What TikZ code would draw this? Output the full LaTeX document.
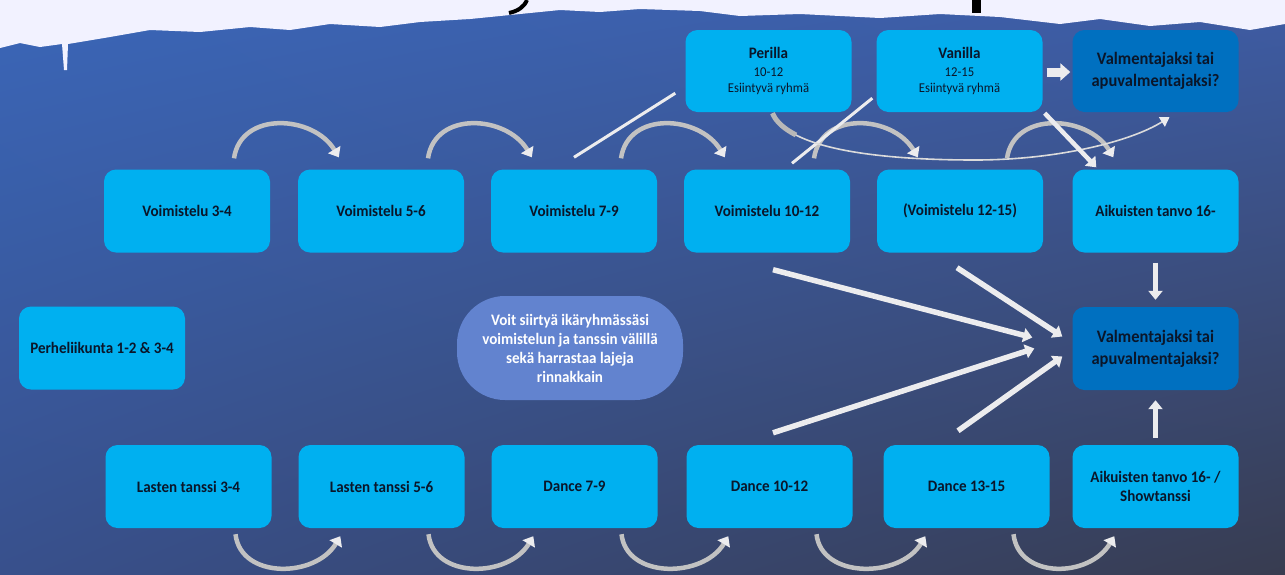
\documentclass[tikz,border=0pt]{standalone}
\usepackage{fontspec}
\setmainfont{Carlito}[FakeStretch=0.94]
\usetikzlibrary{arrows.meta,shadings}

\definecolor{boxcyan}{RGB}{0,176,240}
\definecolor{boxdark}{RGB}{0,112,192}
\definecolor{ovalblue}{RGB}{98,131,207}
\definecolor{labelink}{RGB}{10,22,42}
\definecolor{arrwhite}{RGB}{236,236,238}
\definecolor{bgul}{RGB}{58,102,184}
\definecolor{bgur}{RGB}{62,92,164}
\definecolor{bgll}{RGB}{56,80,140}
\definecolor{bglr}{RGB}{56,60,80}
\newcommand{\agetext}[1]{{\fontsize{13.5}{16}\selectfont\mdseries #1}}

\begin{document}
\begin{tikzpicture}[
    x=1pt, y=-1pt,
    font=\fontsize{16}{19}\selectfont\bfseries,
    box/.style={fill=boxcyan, rounded corners=12pt, minimum width=166pt,
      minimum height=83pt, align=center, text=labelink, inner sep=2pt},
    darkbox/.style={box, fill=boxdark, font=\fontsize{17.5}{22}\selectfont\bfseries},
    note/.style={fill=ovalblue, rounded corners=48pt, minimum width=226pt,
      minimum height=104pt, align=center, text=white},
    arc/.style={draw=black!24, line width=4.5pt,
      -{Triangle[length=9pt,width=14pt,color=arrwhite]}},
    wline/.style={draw=arrwhite, line width=3pt},
    warr/.style={draw=arrwhite, line width=5.5pt,
      -{Triangle[length=9pt,width=14pt]}},
    blockarr/.style={draw=arrwhite, line width=9pt,
      -{Triangle[length=10pt,width=17pt]}},
    thincurve/.style={draw=black!14, line width=1.6pt,
      -{Triangle[length=9pt,width=11pt,color=arrwhite]}}
  ]
    \useasboundingbox (0,0) rectangle (1285,574);
    % background
    \shade[upper left=bgul, upper right=bgur, lower left=bgll, lower right=bglr]
      (0,0) rectangle (1285,574);
    % brush stroke at the top
    \fill[white!95!blue] (0,0) -- (1285,0) -- (1285,24) -- (1250,30) -- (1200,22)
      -- (1150,26) -- (1100,19) -- (1060,24) -- (1000,17) -- (940,14) -- (880,18)
      -- (800,14) -- (740,16) -- (700,11) -- (640,9) -- (600,12) -- (560,10)
      -- (520,14) -- (470,19) -- (420,22) -- (380,27) -- (330,24) -- (290,30)
      -- (250,27) -- (200,32) -- (150,30) -- (110,37) -- (80,42) -- (68,44)
      -- (67,70) -- (64,70) -- (62,44) -- (40,47) -- (20,43) -- (0,48) -- cycle;
    \draw[black, line width=4pt] (527,0) .. controls (524,7) and (518,11) .. (509,13);
    \fill[black] (972,0) rectangle (981,13);

    % top row
    \node[box] (v34) at (187,211) {Voimistelu 3-4};
    \node[box] (v56) at (381,211) {Voimistelu 5-6};
    \node[box] (v79) at (574,211) {Voimistelu 7-9};
    \node[box] (v1012) at (767,211) {Voimistelu 10-12};
    \node[box] (v1215) at (960,211) {(Voimistelu 12-15)};
    \node[box] (aik) at (1155.5,211) {Aikuisten tanvo 16-};

    % show groups
    \node[box, minimum height=82pt] (perilla) at (768.5,71)
      {Perilla\\[-1pt]\agetext{10-12}\\[-3pt]\agetext{Esiintyvä ryhmä}};
    \node[box, minimum height=82pt] (vanilla) at (959.5,71)
      {Vanilla\\[-1pt]\agetext{12-15}\\[-3pt]\agetext{Esiintyvä ryhmä}};
    \node[darkbox, minimum height=82pt] (valmtop) at (1155.5,71)
      {Valmentajaksi tai\\apuvalmentajaksi?};

    % middle
    \node[box] (perhe) at (102,348) {Perheliikunta 1-2 \& 3-4};
    \node[note] (note) at (570,348)
      {Voit siirtyä ikäryhmässäsi\\voimistelun ja tanssin välillä\\sekä harrastaa lajeja\\rinnakkain};
    \node[darkbox] (valmmid) at (1155.5,348.5)
      {Valmentajaksi tai\\apuvalmentajaksi?};

    % bottom row
    \node[box] (l34) at (188.5,486.5) {Lasten tanssi 3-4};
    \node[box] (l56) at (381.5,486.5) {Lasten tanssi 5-6};
    \node[box] (d79) at (574.5,486.5) {Dance 7-9};
    \node[box] (d1012) at (769.5,486.5) {Dance 10-12};
    \node[box] (d1315) at (966.5,486.5) {Dance 13-15};
    \node[box] (show) at (1155.5,486.5) {Aikuisten tanvo 16- /\\Showtanssi};

    % yearly steps
    \foreach \a/\b in {v34/v56, v56/v79, v79/v1012, v1012/v1215, v1215/aik}
      \draw[arc] ([xshift=47pt,yshift=11pt]\a.north) .. controls +(7,-48) and +(-25,-42)
        .. ([xshift=41pt,yshift=12pt]\b.north west);
    \foreach \a/\b in {l34/l56, l56/d79, d79/d1012, d1012/d1315, d1315/show}
      \draw[arc] ([xshift=47pt,yshift=-6pt]\a.south) .. controls +(5,45) and +(-25,42)
        .. ([xshift=42pt,yshift=-8pt]\b.south west);

    % to the show groups
    \draw[wline] ([yshift=12pt]v79.north) -- ([xshift=-10pt,yshift=19pt]perilla.south west);
    \draw[wline] ([xshift=25pt,yshift=6pt]v1012.north) -- ([xshift=-4pt,yshift=14pt]vanilla.south west);
    \coordinate (dip) at (975,160);
    \draw[thincurve] ([xshift=4pt,yshift=-1pt]perilla.south) .. controls +(15,35) and +(-100,0)
      .. (dip) .. controls +(80,0) and +(-40,25) .. ([xshift=14pt,yshift=-5pt]valmtop.south);
    \draw[draw=black!28, line width=5pt] ([xshift=4pt,yshift=-1pt]perilla.south)
      .. controls (776,122) and (784.5,129) .. (796,135);
    \draw[warr, line width=4.5pt] ([xshift=2pt,yshift=-1pt]vanilla.south east)
      -- ([xshift=24pt,yshift=2pt]aik.north west);
    \draw[blockarr] ([xshift=4pt,yshift=-1pt]vanilla.east) -- ([xshift=-2pt,yshift=-1pt]valmtop.west);

    % to coaching
    \draw[warr] ([xshift=6pt,yshift=-17pt]v1012.south) -- ([xshift=-40pt,yshift=11pt]valmmid.west);
    \draw[warr] ([xshift=-3pt,yshift=-15pt]v1215.south) -- ([xshift=-10pt,yshift=12pt]valmmid.west);
    \draw[warr] ([xshift=3.5pt,yshift=12pt]d1012.north) -- ([xshift=-38pt]valmmid.west);
    \draw[warr] ([xshift=-8.5pt,yshift=14pt]d1315.north) -- ([xshift=-10pt,yshift=-8pt]valmmid.west);
    \draw[warr] ([yshift=-10pt]aik.south) -- ([yshift=7pt]valmmid.north);
    \draw[warr] ([yshift=7pt]show.north) -- ([yshift=-10pt]valmmid.south);
  \end{tikzpicture}
\end{document}
